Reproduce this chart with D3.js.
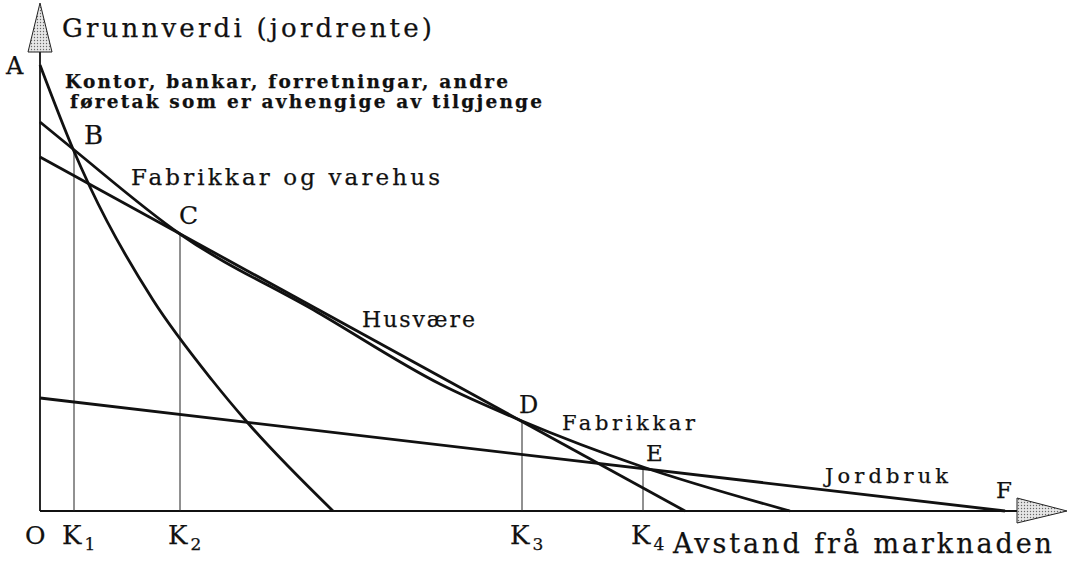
<!DOCTYPE html>
<html lang="no">
<head>
<meta charset="utf-8">
<title>Grunnverdi og avstand frå marknaden</title>
<script src="https://cdn.jsdelivr.net/npm/d3@7"></script>
<style>
  body { margin: 0; background: #fff; }
  svg { display: block; font-family: "DejaVu Serif", serif; }
  text { stroke: #111; stroke-width: 0.25px; }
</style>
</head>
<body>
<div id="chart"></div>
<script>
// Values: x = distance from market, y = land value
const kontorX = [0, 3.3, 5.0, 11.3, 17.2, 20.7, 29.3];
const kontorY = [89.2, 72.4, 64.8, 42.2, 26.2, 17.8, 0];

const fabrikkX = [0, 3.3, 14, 27.7, 40, 48.2, 60.3, 75];
const fabrikkY = [77.8, 72.4, 55.4, 39.8, 25.4, 18, 8.8, 0];

const husvaereX = [0, 64.5];
const husvaereY = [70.8, 0];

const jordbrukX = [0, 96.5];
const jordbrukY = [22.6, 0];

// intersection points of the envelope
const pointNames = ["A", "B", "C", "D", "E", "F"];
const pointX = [0, 3.4, 14, 48.2, 60.3, 96.5];
const pointY = [89.2, 72.4, 55.4, 18, 8.8, 0];

// boundaries K1..K4
const kNames = ["1", "2", "3", "4"];
const kX = [3.4, 14, 48.2, 60.3];
const kTop = [72.4, 55.4, 18, 8.8];

const width = 1077;
const height = 561;

const svg = d3.select("#chart")
  .append("svg")
  .attr("width", width)
  .attr("height", height);

const x = d3.scaleLinear().domain([0, 100]).range([40, 1040]);
const y = d3.scaleLinear().domain([0, 100]).range([511, 11]);

// dotted fill for the arrow heads
const pat = svg.append("defs").append("pattern")
  .attr("id", "dots")
  .attr("width", 3)
  .attr("height", 3)
  .attr("patternUnits", "userSpaceOnUse");
pat.append("rect").attr("width", 3).attr("height", 3).attr("fill", "#e6e6e6");
pat.append("circle").attr("cx", 1.5).attr("cy", 1.5).attr("r", 0.7).attr("fill", "#666");

const x0 = x(0), y0 = y(0);

// axes
svg.append("line")
  .attr("x1", x0).attr("y1", y0)
  .attr("x2", x0).attr("y2", 52)
  .attr("stroke", "#111").attr("stroke-width", 1.8);

svg.append("line")
  .attr("x1", x0).attr("y1", y0)
  .attr("x2", 1017).attr("y2", y0)
  .attr("stroke", "#111").attr("stroke-width", 1.8);

svg.append("path")
  .attr("d", `M${x0},3 L${x0 + 12},52 L${x0 - 12},52 Z`)
  .attr("fill", "url(#dots)")
  .attr("stroke", "#222")
  .attr("stroke-width", 1);

svg.append("path")
  .attr("d", `M1067,${y0} L1017,${y0 - 13} L1017,${y0 + 12} Z`)
  .attr("fill", "url(#dots)")
  .attr("stroke", "#222")
  .attr("stroke-width", 1);

// vertical boundary lines
svg.selectAll(".k-line")
  .data(kX)
  .enter()
  .append("line")
  .attr("x1", d => x(d))
  .attr("x2", d => x(d))
  .attr("y1", y0)
  .attr("y2", (d, i) => y(kTop[i]))
  .attr("stroke", "#222")
  .attr("stroke-width", 1);

// bid rent curves
const curves = [
  { xs: kontorX, ys: kontorY },
  { xs: fabrikkX, ys: fabrikkY },
  { xs: husvaereX, ys: husvaereY },
  { xs: jordbrukX, ys: jordbrukY }
];

const line = d3.line()
  .x(d => x(d[0]))
  .y(d => y(d[1]))
  .curve(d3.curveMonotoneX);

curves.forEach(c => {
  svg.append("path")
    .attr("d", line(c.xs.map((v, i) => [v, c.ys[i]])))
    .attr("fill", "none")
    .attr("stroke", "#111")
    .attr("stroke-width", 2.8);
});

// point letters
const pointOffsets = [[-34, 9], [10, -5], [-1, -10], [-3, -8], [3, -6], [-9, -13]];
const pointSizes = [24, 26, 25, 24, 23, 23];

svg.selectAll(".point-label")
  .data(pointNames)
  .enter()
  .append("text")
  .attr("x", (d, i) => x(pointX[i]) + pointOffsets[i][0])
  .attr("y", (d, i) => y(pointY[i]) + pointOffsets[i][1])
  .attr("font-size", (d, i) => pointSizes[i] + "px")
  .attr("fill", "#111")
  .text(d => d);

// bottom labels
svg.append("text")
  .attr("x", x0 - 15)
  .attr("y", 544)
  .attr("font-size", "25px")
  .attr("fill", "#111")
  .text("O");

kNames.forEach((k, i) => {
  const t = svg.append("text")
    .attr("x", x(kX[i]) - 12)
    .attr("y", 544)
    .attr("font-size", "26px")
    .attr("fill", "#111");
  t.append("tspan").text("K");
  t.append("tspan")
    .attr("dx", 3)
    .attr("dy", 6)
    .attr("font-size", "17px")
    .text(k);
});

// titles and curve names
function label(txt, px, py, size, len, weight) {
  svg.append("text")
    .attr("x", px)
    .attr("y", py)
    .attr("font-size", size + "px")
    .attr("font-weight", weight || "normal")
    .attr("textLength", len)
    .attr("lengthAdjust", "spacing")
    .attr("fill", "#111")
    .text(txt);
}

label("Grunnverdi (jordrente)", 62, 37, 26, 370);
label("Kontor, bankar, forretningar, andre", 65, 88, 18.5, 443, "bold");
label("føretak som er avhengige av tilgjenge", 70, 108, 18.5, 472, "bold");
label("Fabrikkar og varehus", 131, 185, 23, 309);
label("Husvære", 362, 327, 22, 113);
label("Fabrikkar", 562, 430, 21, 133);
label("Jordbruk", 825, 483, 21, 123);
label("Avstand frå marknaden", 673, 553, 27, 379);
</script>
</body>
</html>
